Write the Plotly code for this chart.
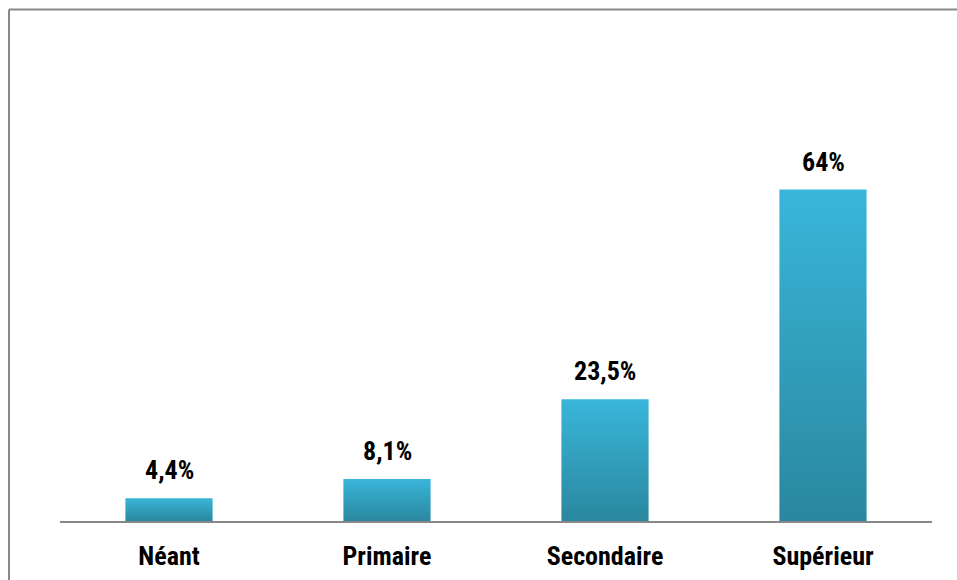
import plotly.graph_objects as go

categories = ["Néant", "Primaire", "Secondaire", "Supérieur"]
values = [4.4, 8.1, 23.5, 64]
value_labels = [f"{v:g}".replace(".", ",") + "%" for v in values]

TOP_COLOR = "#39B6DA"
BOTTOM_COLOR = "#2A879E"
FONT = "Liberation Sans Narrow, Arial Narrow, Roboto Condensed, sans-serif"
HALF = 0.2

fig = go.Figure()
for i, v in enumerate(values):
    fig.add_trace(go.Scatter(
        x=[i - HALF, i + HALF, i + HALF, i - HALF, i - HALF],
        y=[0, 0, v, v, 0],
        mode="lines",
        line=dict(width=0),
        fill="toself",
        fillgradient=dict(type="vertical",
                          colorscale=[[0, BOTTOM_COLOR], [1, TOP_COLOR]]),
        hoverinfo="skip",
        showlegend=False,
    ))

for i, (v, t) in enumerate(zip(values, value_labels)):
    fig.add_annotation(x=i, y=v, text=f"<b>{t}</b>", showarrow=False,
                       yanchor="bottom", yshift=11,
                       font=dict(family=FONT, size=26, color="#000000"))

fig.update_layout(
    width=957, height=580,
    margin=dict(l=60, r=25, t=55, b=59, autoexpand=False),
    plot_bgcolor="white", paper_bgcolor="white",
    showlegend=False,
    xaxis=dict(range=[-0.5, 3.5], tickvals=list(range(len(categories))),
               ticktext=[f"<b>{c}</b>" for c in categories],
               showgrid=False, zeroline=False, automargin=False,
               showline=True, linecolor="#878787", linewidth=2,
               ticks="outside", ticklen=11, tickcolor="rgba(0,0,0,0)",
               tickfont=dict(family=FONT, size=26, color="#000000")),
    yaxis=dict(range=[0, 90], visible=False, showgrid=False, zeroline=False,
               automargin=False),
    shapes=[
        dict(type="line", xref="paper", yref="paper",
             x0=-0.0585, x1=-0.0585, y0=1.0975, y1=-0.2,
             line=dict(color="#888888", width=2)),
        dict(type="line", xref="paper", yref="paper",
             x0=-0.0585, x1=1.1, y0=1.0975, y1=1.0975,
             line=dict(color="#888888", width=2)),
    ],
)

fig.write_html("out.html")
